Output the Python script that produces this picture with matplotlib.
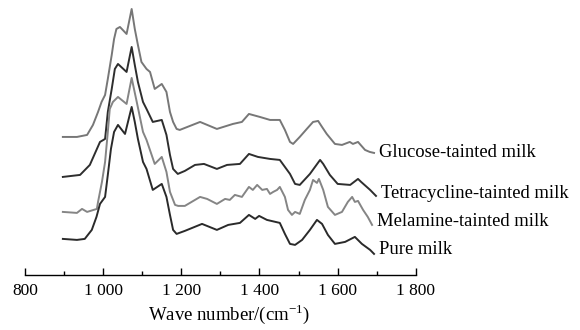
"""FTIR-style spectra of pure and tainted milk, stacked with offsets"""

import numpy as np
import matplotlib
matplotlib.use('Agg')
import matplotlib.pyplot as plt
from matplotlib.ticker import MultipleLocator, FuncFormatter

plt.rcParams['font.family'] = ['Liberation Serif', 'DejaVu Serif']
plt.rcParams['mathtext.fontset'] = 'custom'
plt.rcParams['mathtext.rm'] = 'Liberation Serif'

# wave numbers (cm-1) and stacked intensity (a.u.)
glucose_wn = [897, 933, 959, 974, 987, 996, 1005, 1012, 1022, 1028, 1034, 1043, 1060, 1073, 1081,
              1089, 1098, 1111, 1120, 1132, 1150, 1162, 1171, 1179, 1188, 1196, 1248, 1291, 1332,
              1355, 1373, 1401, 1427, 1452, 1465, 1478, 1486, 1503, 1521, 1537, 1550, 1560, 1572,
              1593, 1611, 1631, 1639, 1652, 1670, 1682, 1693]
glucose_y = [138, 138, 140, 150, 163, 173, 180, 196, 220, 236, 246, 248, 241, 266, 246,
             230, 213, 206, 203, 186, 191, 183, 163, 153, 146, 145, 153, 146, 151,
             153, 161, 158, 155, 155, 145, 133, 131, 138, 146, 153, 154, 148, 141,
             131, 130, 133, 131, 133, 125, 123, 122]

tetra_wn = [897, 941, 966, 992, 1005, 1012, 1022, 1030, 1038, 1060, 1073, 1081, 1089, 1102, 1111,
            1127, 1150, 1162, 1171, 1179, 1191, 1209, 1235, 1258, 1291, 1317, 1350, 1373, 1396,
            1427, 1452, 1478, 1491, 1503, 1529, 1555, 1563, 1580, 1600, 1632, 1652, 1660, 1683,
            1698]
tetra_y = [98, 100, 110, 133, 136, 163, 186, 206, 211, 203, 228, 210, 193, 173, 166,
           153, 155, 140, 120, 106, 101, 104, 110, 111, 106, 110, 111, 121, 118,
           116, 115, 101, 91, 90, 101, 115, 111, 100, 91, 90, 96, 93, 85,
           79]

melamine_wn = [897, 933, 946, 959, 984, 987, 997, 1005, 1012, 1017, 1025, 1038, 1060, 1073, 1086,
               1102, 1111, 1132, 1150, 1162, 1171, 1184, 1192, 1209, 1248, 1266, 1291, 1312, 1324,
               1337, 1355, 1373, 1383, 1394, 1407, 1419, 1427, 1435, 1445, 1452, 1465, 1473, 1483,
               1491, 1503, 1516, 1529, 1537, 1547, 1552, 1563, 1575, 1593, 1611, 1626, 1637, 1644,
               1652, 1665, 1677, 1688]
melamine_y = [63, 62, 66, 63, 66, 73, 93, 113, 143, 166, 173, 178, 171, 197, 173,
              143, 135, 111, 118, 103, 83, 70, 69, 69, 78, 76, 71, 76, 75,
              80, 78, 88, 85, 90, 85, 86, 81, 83, 85, 88, 78, 65, 60,
              63, 61, 75, 85, 95, 92, 96, 85, 68, 60, 63, 73, 78, 73,
              74, 65, 58, 50]

pure_wn = [897, 933, 953, 971, 983, 992, 1005, 1012, 1020, 1028, 1038, 1056, 1073, 1081, 1089,
           1102, 1111, 1127, 1150, 1162, 1171, 1179, 1188, 1209, 1253, 1291, 1320, 1350, 1373,
           1389, 1399, 1419, 1452, 1465, 1478, 1491, 1509, 1529, 1547, 1560, 1575, 1593, 1619,
           1644, 1662, 1683, 1693]
pure_y = [36, 35, 36, 45, 58, 71, 78, 100, 126, 143, 150, 141, 168, 153, 136,
          113, 106, 85, 91, 78, 60, 45, 41, 44, 51, 45, 50, 52, 60,
          56, 59, 55, 52, 41, 31, 30, 35, 45, 55, 51, 40, 31, 33,
          38, 31, 25, 21]

series = [
    ('Glucose-tainted milk', glucose_wn, glucose_y, '#777777'),
    ('Tetracycline-tainted milk', tetra_wn, tetra_y, '#2e2e2e'),
    ('Melamine-tainted milk', melamine_wn, melamine_y, '#858585'),
    ('Pure milk', pure_wn, pure_y, '#2a2a2a'),
]
label_dy = [0, 2, 3, 4]

fig = plt.figure(figsize=(5.8, 3.3), dpi=100)
ax = fig.add_axes([0.043, 0.167, 0.674, 0.827])

for (name, wn, y, col), dy in zip(series, label_dy):
    ax.plot(wn, y, color=col, lw=1.4, solid_joinstyle='round')
    ax.text(wn[-1] + 13, y[-1] + dy, name, fontsize=13.4, va='center', ha='left',
            color='black', clip_on=False)

ax.set_xlim(800, 1800)
ax.set_ylim(0, 273)
for s in ['top', 'right', 'left']:
    ax.spines[s].set_visible(False)
ax.spines['bottom'].set_linewidth(1.0)
ax.set_yticks([])
ax.xaxis.set_major_locator(MultipleLocator(200))
ax.xaxis.set_minor_locator(MultipleLocator(100))
ax.xaxis.set_major_formatter(FuncFormatter(lambda v, p: f'{int(v):,}'.replace(',', ' ')))
ax.tick_params(axis='x', which='major', direction='in', length=5, width=1.0,
               labelsize=12.5, pad=6)
ax.tick_params(axis='x', which='minor', direction='in', length=3, width=1.0)
ax.set_xlabel('Wave number/(cm$^{-1}$)', fontsize=13.5)
ax.xaxis.set_label_coords(0.522, -0.10)
ax.patch.set_visible(False)

fig.savefig('out.png', dpi=100)
